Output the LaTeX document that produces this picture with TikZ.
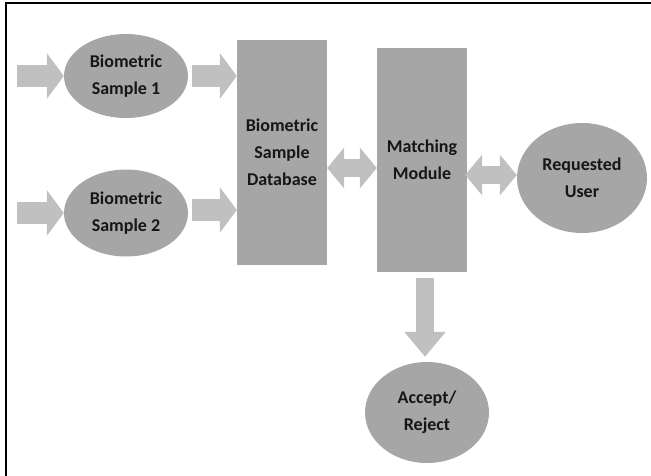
\documentclass[tikz,border=0pt]{standalone}
\usepackage{fontspec}
\setmainfont{Carlito}
\usepackage{tikz}
\usetikzlibrary{shapes}
\usetikzlibrary{shapes.geometric}
\usetikzlibrary{arrows.meta}

\definecolor{boxgray}{RGB}{166,166,166}
\definecolor{arrowgray}{RGB}{192,192,192}
\definecolor{textdark}{RGB}{22,22,22}

\tikzset{
    blocktext/.style={align=center, text=textdark, inner sep=0pt,
        font=\fontsize{18}{27}\selectfont\bfseries},
    samplenode/.style={blocktext, ellipse, fill=boxgray},
    modulebox/.style={blocktext, rectangle, fill=boxgray},
    fatarrow/.style={draw=arrowgray, line width=22pt,
        -{Triangle[width=45pt, length=17pt]}},
    dblarrow/.style={draw=arrowgray, line width=18pt,
        {Triangle[width=40pt, length=17pt]}-{Triangle[width=40pt, length=17pt]}},
    downarrow/.style={draw=arrowgray, line width=18pt,
        -{Triangle[width=40pt, length=25pt]}}
}

\begin{document}
\begin{tikzpicture}[x=1pt, y=-1pt]
    \useasboundingbox (0,0) rectangle (651,475);
    \draw[line width=2.3pt] (6,480) -- (6,3) -- (660,3);

    \node[samplenode, minimum width=124pt, minimum height=84pt] (sample1) at (126,76) {Biometric\\Sample 1};
    \node[samplenode, minimum width=124pt, minimum height=87pt] (sample2) at (126,213) {Biometric\\Sample 2};
    \node[modulebox, minimum width=90pt, minimum height=225pt] (database) at (282,152.5) {Biometric\\Sample\\Database};
    \node[modulebox, minimum width=90pt, minimum height=224pt] (matching) at (422,160) {Matching\\Module};
    \node[samplenode, minimum width=130pt, minimum height=110pt] (user) at (582,178) {Requested\\User};
    \node[samplenode, minimum width=124pt, minimum height=101pt] (decision) at (427,412.5) {Accept/\\Reject};

    \coordinate (input1) at (17,76);
    \coordinate (input2) at (17,213);

    \draw[fatarrow] (input1) -- (sample1.west);
    \draw[fatarrow] (input2) -- (sample2.west);
    \draw[fatarrow] ([xshift=4pt]sample1.east) -- (database.west |- sample1.east);
    \draw[fatarrow] ([xshift=4pt,yshift=3pt]sample2.east) -- ([yshift=3pt]database.west |- sample2.east);
    \draw[dblarrow] ([yshift=-15.5pt]database.east) -- ([yshift=-8pt]matching.west);
    \draw[dblarrow] ([xshift=-2pt,yshift=-15pt]matching.east) -- ([yshift=3pt]user.west);
    \draw[downarrow] ([xshift=3pt,yshift=-6pt]matching.south) -- ([xshift=-2pt,yshift=5pt]decision.north);
\end{tikzpicture}
\end{document}
